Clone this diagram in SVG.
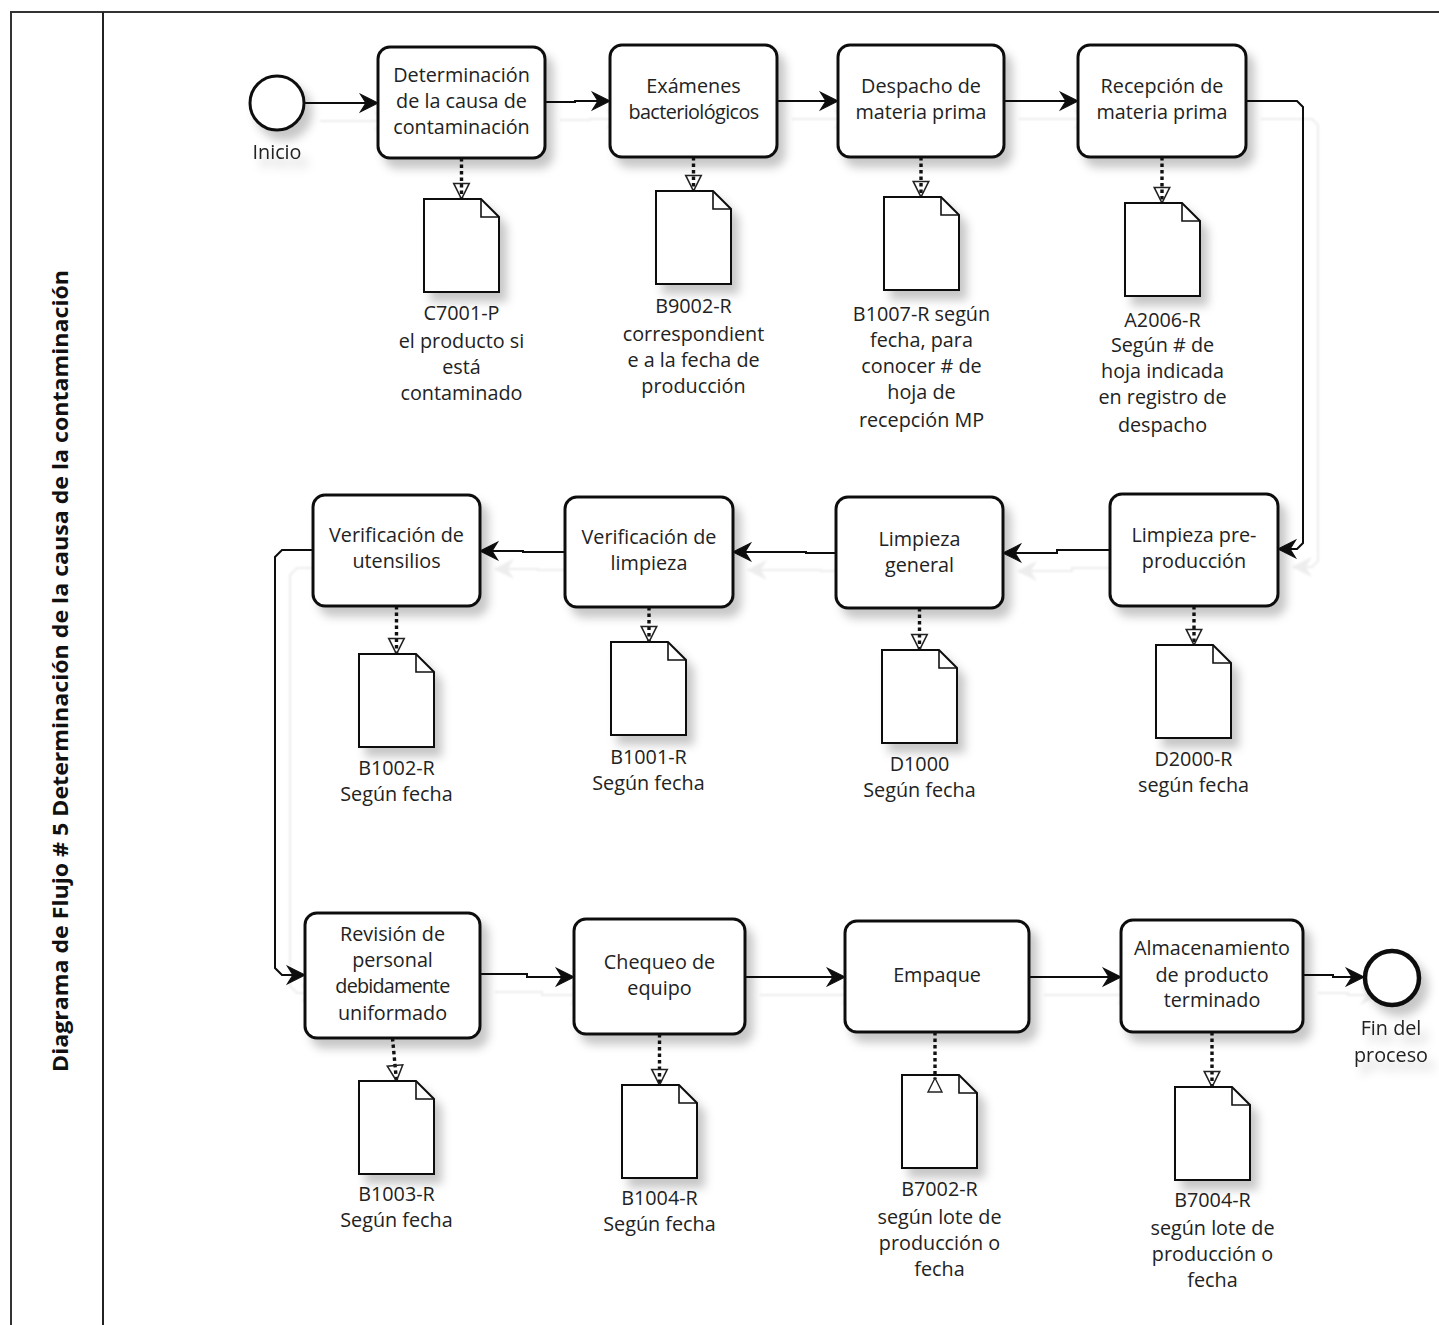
<svg xmlns="http://www.w3.org/2000/svg" width="1439" height="1325" viewBox="0 0 1439 1325">
<style>
.task{fill:#fff;stroke:#111;stroke-width:3}
.doc{fill:#fff;stroke:#111;stroke-width:2}
.fold{fill:none;stroke:#111;stroke-width:1.6}
.lbl{font-family:"Open Sans","Noto Sans",sans-serif;font-size:19.8px;fill:#222;text-anchor:middle}
.flow{fill:none;stroke:#111;stroke-width:2}
.assoc{fill:none;stroke:#111;stroke-width:3.4;stroke-dasharray:3.5 3}
.tri{fill:none;stroke:#222;stroke-width:1.4}
.title{font-family:"Open Sans","Noto Sans",sans-serif;font-size:22px;font-weight:bold;fill:#111;text-anchor:middle}
</style>
<defs>
<filter id="sh" x="-20%" y="-20%" width="150%" height="150%">
<feDropShadow dx="7" dy="9" stdDeviation="5" flood-color="#000" flood-opacity="0.22"/>
</filter>
<filter id="ghost" x="-10%" y="-10%" width="130%" height="130%">
<feDropShadow dx="15" dy="18" stdDeviation="0.8" flood-color="#000" flood-opacity="0.07"/>
</filter>
<marker id="arr" markerUnits="userSpaceOnUse" markerWidth="22" markerHeight="22" viewBox="-18 -10 20 20" refX="0" refY="0" orient="auto">
<path d="M-16,-8 L0,0 L-16,8 L-11,0 Z" fill="#111" stroke="#111" stroke-width="1"/>
</marker>
<marker id="atri" markerUnits="userSpaceOnUse" markerWidth="20" markerHeight="20" viewBox="-16 -9 18 18" refX="0" refY="0" orient="auto">
<path d="M-14,-7 L0,0 L-14,7 Z" fill="none" stroke="#222" stroke-width="1.4"/>
</marker>
</defs>
<rect width="1439" height="1325" fill="#fff"/>
<g id="pool">
<path d="M1439,12 H11 V1325" fill="none" stroke="#333" stroke-width="2"/>
<line x1="103" y1="12" x2="103" y2="1325" stroke="#222" stroke-width="2"/>
<text class="title" transform="translate(68,671) rotate(-90)" textLength="802" lengthAdjust="spacingAndGlyphs">Diagrama de Flujo # 5 Determinación de la causa de la contaminación</text>
</g>
<g id="connectors">
<g filter="url(#ghost)">
<path class="flow" d="M305,103 H378" marker-end="url(#arr)"/>
<path class="flow" d="M545,102 H575 V101 H610" marker-end="url(#arr)"/>
<path class="flow" d="M777,101 H838" marker-end="url(#arr)"/>
<path class="flow" d="M1004,101 H1078" marker-end="url(#arr)"/>
<path class="flow" d="M1246,101 H1297 L1303,107 V543 L1297,549 H1278" marker-end="url(#arr)"/>
<path class="flow" d="M1110,550 H1057 V553 H1003" marker-end="url(#arr)"/>
<path class="flow" d="M836,553 H806 V552 H733" marker-end="url(#arr)"/>
<path class="flow" d="M565,552 H523 V551 H480" marker-end="url(#arr)"/>
<path class="flow" d="M313,550 H282 L275,557 V968 L282,975 H305" marker-end="url(#arr)"/>
<path class="flow" d="M480,974 H527 V977 H574" marker-end="url(#arr)"/>
<path class="flow" d="M745,977 H845" marker-end="url(#arr)"/>
<path class="flow" d="M1029,977 H1121" marker-end="url(#arr)"/>
<path class="flow" d="M1303,975 H1333 V977 H1364" marker-end="url(#arr)"/>
</g>
<path class="assoc" d="M461.5,158 V199" marker-end="url(#atri)"/>
<path class="assoc" d="M693.5,157 V191" marker-end="url(#atri)"/>
<path class="assoc" d="M921,157 V197" marker-end="url(#atri)"/>
<path class="assoc" d="M1162,157 V203" marker-end="url(#atri)"/>
<path class="assoc" d="M1194,606 V645" marker-end="url(#atri)"/>
<path class="assoc" d="M919.5,608 V650" marker-end="url(#atri)"/>
<path class="assoc" d="M649,607 V642" marker-end="url(#atri)"/>
<path class="assoc" d="M396.5,606 V654" marker-end="url(#atri)"/>
<path class="assoc" d="M392.5,1038 L396.5,1081" marker-end="url(#atri)"/>
<path class="assoc" d="M659.5,1034 V1085" marker-end="url(#atri)"/>
<path class="assoc" d="M1212,1032 V1087" marker-end="url(#atri)"/>
</g>
<g id="start" filter="url(#sh)">
<circle cx="277" cy="103" r="27" fill="#fff" stroke="#111" stroke-width="3"/>
<text class="lbl" x="277" y="159">Inicio</text>
</g>
<g id="end" filter="url(#sh)">
<circle cx="1392" cy="978" r="27" fill="#fff" stroke="#111" stroke-width="4.5"/>
<text class="lbl" x="1391" y="1035">Fin del</text>
<text class="lbl" x="1391" y="1062">proceso</text>
</g>
<g id="t1"><rect class="task" filter="url(#sh)" x="378" y="47" width="167" height="111" rx="12"/>
<text class="lbl" x="461.5" y="82">Determinación</text><text class="lbl" x="461.5" y="108">de la causa de</text><text class="lbl" x="461.5" y="134">contaminación</text></g>
<g id="t2"><rect class="task" filter="url(#sh)" x="610" y="45" width="167" height="112" rx="12"/>
<text class="lbl" x="693.5" y="93">Exámenes</text><text class="lbl" x="693.5" y="119" letter-spacing="-0.6">bacteriológicos</text></g>
<g id="t3"><rect class="task" filter="url(#sh)" x="838" y="45" width="166" height="112" rx="12"/>
<text class="lbl" x="921" y="93">Despacho de</text><text class="lbl" x="921" y="119">materia prima</text></g>
<g id="t4"><rect class="task" filter="url(#sh)" x="1078" y="45" width="168" height="112" rx="12"/>
<text class="lbl" x="1162" y="93">Recepción de</text><text class="lbl" x="1162" y="119">materia prima</text></g>
<g id="t5"><rect class="task" filter="url(#sh)" x="1110" y="494" width="168" height="112" rx="12"/>
<text class="lbl" x="1194" y="542">Limpieza pre-</text><text class="lbl" x="1194" y="568">producción</text></g>
<g id="t6"><rect class="task" filter="url(#sh)" x="836" y="497" width="167" height="111" rx="12"/>
<text class="lbl" x="919.5" y="546">Limpieza</text><text class="lbl" x="919.5" y="572">general</text></g>
<g id="t7"><rect class="task" filter="url(#sh)" x="565" y="497" width="168" height="110" rx="12"/>
<text class="lbl" x="649" y="544">Verificación de</text><text class="lbl" x="649" y="570">limpieza</text></g>
<g id="t8"><rect class="task" filter="url(#sh)" x="313" y="495" width="167" height="111" rx="12"/>
<text class="lbl" x="396.5" y="542">Verificación de</text><text class="lbl" x="396.5" y="568">utensilios</text></g>
<g id="t9"><rect class="task" filter="url(#sh)" x="305" y="913" width="175" height="125" rx="12"/>
<text class="lbl" x="392.5" y="941">Revisión de</text><text class="lbl" x="392.5" y="967">personal</text><text class="lbl" x="392.5" y="993" letter-spacing="-0.8">debidamente</text><text class="lbl" x="392.5" y="1020">uniformado</text></g>
<g id="t10"><rect class="task" filter="url(#sh)" x="574" y="919" width="171" height="115" rx="12"/>
<text class="lbl" x="659.5" y="969">Chequeo de</text><text class="lbl" x="659.5" y="995">equipo</text></g>
<g id="t11"><rect class="task" filter="url(#sh)" x="845" y="921" width="184" height="111" rx="12"/>
<text class="lbl" x="937" y="982">Empaque</text></g>
<g id="t12"><rect class="task" filter="url(#sh)" x="1121" y="920" width="182" height="112" rx="12"/>
<text class="lbl" x="1212" y="955">Almacenamiento</text><text class="lbl" x="1212" y="982">de producto</text><text class="lbl" x="1212" y="1007">terminado</text></g>
<g id="d1"><path class="doc" filter="url(#sh)" d="M424,199 H481 L499,217 V292 H424 Z"/><path class="fold" d="M481,199 V217 H499"/>
<text class="lbl" x="461.5" y="320">C7001-P</text><text class="lbl" x="461.5" y="348">el producto si</text><text class="lbl" x="461.5" y="374">está</text><text class="lbl" x="461.5" y="400">contaminado</text></g>
<g id="d2"><path class="doc" filter="url(#sh)" d="M656,191 H713 L731,209 V284 H656 Z"/><path class="fold" d="M713,191 V209 H731"/>
<text class="lbl" x="693.5" y="313">B9002-R</text><text class="lbl" x="693.5" y="341">correspondient</text><text class="lbl" x="693.5" y="367">e a la fecha de</text><text class="lbl" x="693.5" y="393">producción</text></g>
<g id="d3"><path class="doc" filter="url(#sh)" d="M884,197 H941 L959,215 V290 H884 Z"/><path class="fold" d="M941,197 V215 H959"/>
<text class="lbl" x="921.5" y="321">B1007-R según</text><text class="lbl" x="921.5" y="347">fecha, para</text><text class="lbl" x="921.5" y="373">conocer # de</text><text class="lbl" x="921.5" y="399">hoja de</text><text class="lbl" x="921.5" y="427">recepción MP</text></g>
<g id="d4"><path class="doc" filter="url(#sh)" d="M1125,203 H1182 L1200,221 V296 H1125 Z"/><path class="fold" d="M1182,203 V221 H1200"/>
<text class="lbl" x="1162.5" y="327">A2006-R</text><text class="lbl" x="1162.5" y="352">Según # de</text><text class="lbl" x="1162.5" y="378">hoja indicada</text><text class="lbl" x="1162.5" y="404">en registro de</text><text class="lbl" x="1162.5" y="432">despacho</text></g>
<g id="d5"><path class="doc" filter="url(#sh)" d="M1156,645 H1213 L1231,663 V738 H1156 Z"/><path class="fold" d="M1213,645 V663 H1231"/>
<text class="lbl" x="1193.5" y="766">D2000-R</text><text class="lbl" x="1193.5" y="792">según fecha</text></g>
<g id="d6"><path class="doc" filter="url(#sh)" d="M882,650 H939 L957,668 V743 H882 Z"/><path class="fold" d="M939,650 V668 H957"/>
<text class="lbl" x="919.5" y="771">D1000</text><text class="lbl" x="919.5" y="797">Según fecha</text></g>
<g id="d7"><path class="doc" filter="url(#sh)" d="M611,642 H668 L686,660 V735 H611 Z"/><path class="fold" d="M668,642 V660 H686"/>
<text class="lbl" x="648.5" y="764">B1001-R</text><text class="lbl" x="648.5" y="790">Según fecha</text></g>
<g id="d8"><path class="doc" filter="url(#sh)" d="M359,654 H416 L434,672 V747 H359 Z"/><path class="fold" d="M416,654 V672 H434"/>
<text class="lbl" x="396.5" y="775">B1002-R</text><text class="lbl" x="396.5" y="801">Según fecha</text></g>
<g id="d9"><path class="doc" filter="url(#sh)" d="M359,1081 H416 L434,1099 V1174 H359 Z"/><path class="fold" d="M416,1081 V1099 H434"/>
<text class="lbl" x="396.5" y="1201">B1003-R</text><text class="lbl" x="396.5" y="1227">Según fecha</text></g>
<g id="d10"><path class="doc" filter="url(#sh)" d="M622,1085 H679 L697,1103 V1178 H622 Z"/><path class="fold" d="M679,1085 V1103 H697"/>
<text class="lbl" x="659.5" y="1205">B1004-R</text><text class="lbl" x="659.5" y="1231">Según fecha</text></g>
<g id="d11"><path class="doc" filter="url(#sh)" d="M902,1075 H959 L977,1093 V1168 H902 Z"/><path class="fold" d="M959,1075 V1093 H977"/>
<text class="lbl" x="939.5" y="1196">B7002-R</text><text class="lbl" x="939.5" y="1224">según lote de</text><text class="lbl" x="939.5" y="1250">producción o</text><text class="lbl" x="939.5" y="1276">fecha</text></g>
<g id="d12"><path class="doc" filter="url(#sh)" d="M1175,1087 H1232 L1250,1105 V1180 H1175 Z"/><path class="fold" d="M1232,1087 V1105 H1250"/>
<text class="lbl" x="1212.5" y="1207">B7004-R</text><text class="lbl" x="1212.5" y="1235">según lote de</text><text class="lbl" x="1212.5" y="1261">producción o</text><text class="lbl" x="1212.5" y="1287">fecha</text></g>
<g id="assoc-empaque">
<path class="assoc" d="M935,1032 V1079"/>
<path class="tri" d="M935,1078 L942,1092 L928,1092 Z"/>
</g>
</svg>
